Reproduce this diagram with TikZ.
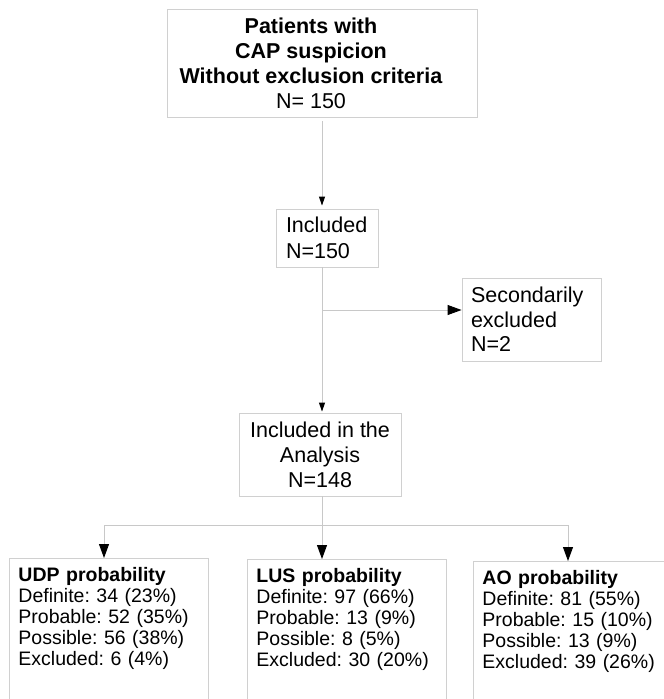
\documentclass[tikz,border=0pt]{standalone}
\usepackage{fontspec}
\setmainfont{Liberation Sans}
\usetikzlibrary{arrows.meta}
\definecolor{boxgray}{RGB}{208,208,208}
\definecolor{linegray}{RGB}{200,200,200}
\frenchspacing

\begin{document}
\begin{tikzpicture}[x=1pt,y=-1pt,
	box/.style={draw=boxgray,line width=0.9pt,inner sep=0pt},
	arr/.style={draw=linegray,line width=0.9pt,-{Triangle[length=9pt,width=6pt,color=black]}},
	bigarr/.style={draw=linegray,line width=0.9pt,-{Triangle[length=14pt,width=10pt,color=black]}}]
			\useasboundingbox (0,0) rectangle (664,699);
			\clip (0,0) rectangle (664,699);
			\fill[white] (0,0) rectangle (664,699);
			\node[box,minimum height=108pt,font=\fontsize{21.5}{25}\selectfont] (pat) at (322,63){\parbox{288pt}{\centering\textbf{Patients with}\\\textbf{CAP suspicion}\\\textbf{Without exclusion criteria}\\N= 150}\hspace*{22pt}};
			\node[box,text width=82pt,inner xsep=10pt,minimum height=58pt,align=left,font=\fontsize{21.5}{26}\selectfont] (inc) at (327,238){Included\\N=150};
			\node[box,text width=121pt,inner xsep=9pt,minimum height=83pt,align=left,font=\fontsize{21.5}{24.5}\selectfont] (sec) at (531.5,319.5){Secondarily\\excluded\\N=2};
			\node[box,minimum width=162pt,minimum height=83pt,align=center,font=\fontsize{21.5}{25}\selectfont] (ana) at (320,454.5){Included in the\\Analysis\\N=148};
			\node[box,anchor=north west,text width=181pt,inner xsep=9pt,inner ysep=9pt,text depth=125pt,align=left,font=\fontsize{19.5}{21}\selectfont] (udp) at (9,558){\textbf{UDP probability}\\Definite: 34 (23\%)\\Probable: 52 (35\%)\\Possible: 56 (38\%)\\Excluded: 6 (4\%)};
			\node[box,anchor=north west,text width=181pt,inner xsep=9pt,inner ysep=9pt,text depth=125pt,align=left,font=\fontsize{19.5}{21}\selectfont] (lus) at (247,559){\textbf{LUS probability}\\Definite: 97 (66\%)\\Probable: 13 (9\%)\\Possible: 8 (5\%)\\Excluded: 30 (20\%)};
			\node[box,anchor=north west,text width=181pt,inner xsep=9pt,inner ysep=9pt,text depth=125pt,align=left,font=\fontsize{19.5}{21}\selectfont] (ao) at (473,561){\textbf{AO probability}\\Definite: 81 (55\%)\\Probable: 15 (10\%)\\Possible: 13 (9\%)\\Excluded: 39 (26\%)};
			\coordinate (br) at (322,310);
			\coordinate (s1) at (104,525);
			\coordinate (s2) at (322,525);
			\coordinate (s3) at (568,525);
			\draw (pat.south) edge [arr,shorten <=4pt,shorten >=3pt] (pat.south |- inc.north);
			\draw (s2 |- inc.south) edge [arr,shorten >=1pt] (s2 |- ana.north);
			\draw (br) edge [bigarr] (br -| sec.west);
			\draw[linegray,line width=0.9pt] (s2 |- ana.south) -- (s2) (s1) -- (s3);
			\draw (s1) edge [bigarr] (s1 |- udp.north);
			\draw (s2) edge [bigarr] (s2 |- lus.north);
			\draw (s3) edge [bigarr] (s3 |- ao.north);
		\end{tikzpicture}
\end{document}
